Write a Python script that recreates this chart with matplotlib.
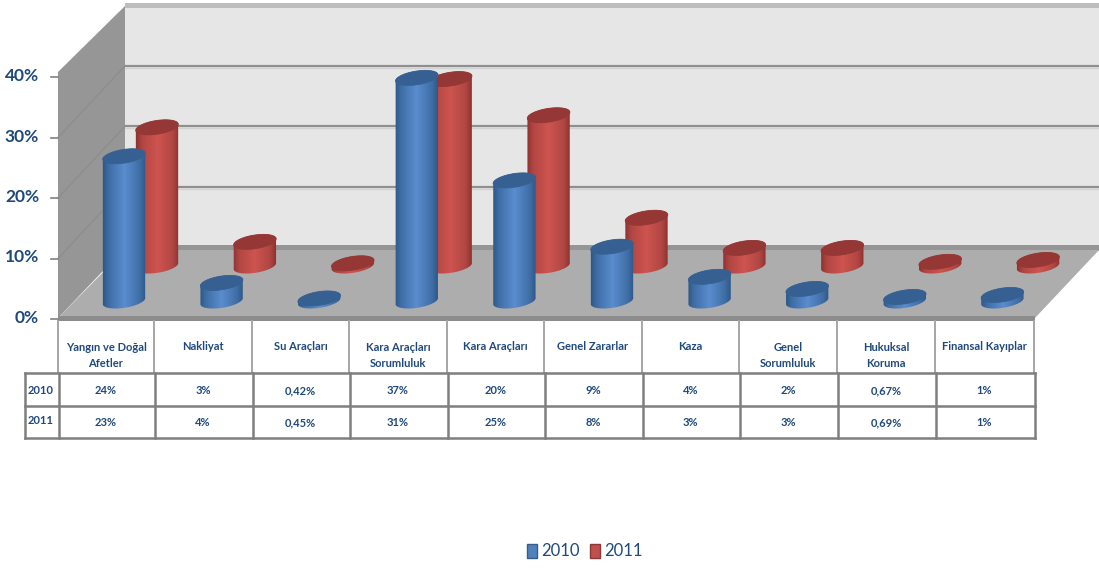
import numpy as np
import matplotlib
matplotlib.use("Agg")
import matplotlib.pyplot as plt
from matplotlib.colors import LinearSegmentedColormap
from matplotlib.patches import Polygon, Rectangle

plt.rcParams['font.family'] = ['Lato', 'DejaVu Sans']

# dane
kategorie = ['Yangın ve Doğal\nAfetler', 'Nakliyat', 'Su Araçları', 'Kara Araçları\nSorumluluk',
             'Kara Araçları', 'Genel Zararlar', 'Kaza', 'Genel\nSorumluluk',
             'Hukuksal\nKoruma', 'Finansal Kayıplar']
wartosci_2010 = [24, 3, 0.42, 37, 20, 9, 4, 2, 0.67, 1]
wartosci_2011 = [23, 4, 0.45, 31, 25, 8, 3, 3, 0.69, 1]
etykiety_2010 = ['24%', '3%', '0,42%', '37%', '20%', '9%', '4%', '2%', '0,67%', '1%']
etykiety_2011 = ['23%', '4%', '0,45%', '31%', '25%', '8%', '3%', '3%', '0,69%', '1%']
osie_y = [0, 10, 20, 30, 40]

NAVY = '#1f497d'
PX_NA_PROCENT = 6.03

fig = plt.figure(figsize=(10.99, 5.68), dpi=100)
ax = fig.add_axes([0, 0, 1, 1])


def walec(cx, baza, wartosc, kolory, gora, z):
    # walec: gradient na boku + elipsa na gorze
    a, b, kat = 21.5, 6.8, np.radians(9)
    top = baza - wartosc * PX_NA_PROCENT
    t0 = np.arctan2(-b * np.sin(kat), a * np.cos(kat))

    def elipsa(t, cy):
        return np.column_stack([
            cx + a * np.cos(t) * np.cos(kat) + b * np.sin(t) * np.sin(kat),
            cy - a * np.cos(t) * np.sin(kat) + b * np.sin(t) * np.cos(kat),
        ])

    dol = elipsa(np.linspace(t0, t0 + np.pi, 40), baza)
    gor = elipsa(np.linspace(t0 + np.pi, t0 + 2 * np.pi, 40), top)
    bok = Polygon(np.vstack([dol, gor]), closed=True, fc='none', ec='none', zorder=z)
    ax.add_patch(bok)
    grad = np.linspace(0, 1, 64).reshape(1, -1)
    cm = LinearSegmentedColormap.from_list('w', kolory)
    im = ax.imshow(grad, cmap=cm, extent=[cx - a - 1, cx + a + 1, baza + 10, top - 10],
                   aspect='auto', zorder=z, interpolation='bilinear')
    im.set_clip_path(bok)
    ax.add_patch(Polygon(elipsa(np.linspace(0, 2 * np.pi, 80), top), closed=True,
                         fc=gora, ec=gora, lw=0.6, zorder=z + 0.1))


# sciany i podloga
ax.add_patch(Polygon([(125, 5), (1099, 5), (1099, 250), (125, 250)], fc='#e6e6e6', ec='none', zorder=1))
ax.add_patch(Rectangle((125, 3), 974, 5, fc='#bdbdbd', ec='none', zorder=1.6))
ax.add_patch(Polygon([(58, 318), (125, 248), (125, 6), (58, 72)], fc='#969696', ec='none', zorder=2))
ax.add_patch(Rectangle((125, 245), 974, 6, fc='#959595', ec='none', zorder=2))
ax.add_patch(Polygon([(58, 318), (125, 250), (1099, 250), (1035, 318)], fc='#adadad', ec='none', zorder=2.1))
ax.add_patch(Rectangle((58, 316), 977, 5, fc='#8c8c8c', ec='none', zorder=2.2))

for v in osie_y[1:]:
    yb = 247 - v * 60.4 / 10
    yf = 319 - v * 60.5 / 10
    if v < 40:
        ax.plot([125, 1099], [yb, yb], color='#8f8f8f', lw=1.6, zorder=1.5)
        ax.plot([125, 1099], [yb + 2, yb + 2], color='#d2d2d2', lw=1, zorder=1.4)
        ax.plot([58, 125], [yf, yb], color='#8c8c8c', lw=0.8, zorder=2.1)
for v in osie_y:
    yf = 319 - v * 60.5 / 10
    ax.plot([51, 58], [yf, yf], color='#808080', lw=1.2, zorder=3)
    ax.text(39, yf - 1, f'{v}%', ha='right', va='center', fontsize=12.5, fontweight='bold', color=NAVY)

# slupki
niebieski = [(0, '#2c5482'), (0.15, '#3f6ea6'), (0.5, '#5a8dcf'), (0.85, '#3f6ea6'), (1, '#2c5482')]
czerwony = [(0, '#8a2f2c'), (0.15, '#b04643'), (0.5, '#cf5450'), (0.85, '#b04643'), (1, '#8a2f2c')]
for i, v in enumerate(wartosci_2011):
    walec(157 + 97.9 * i, 266, v, czerwony, '#953735', 5 + i * 0.2)
for i, v in enumerate(wartosci_2010):
    walec(124 + 97.6 * i, 301, v, niebieski, '#376092', 10 + i * 0.2)

# tabela
kol_x = [58, 154, 252, 349, 447, 544, 642, 739, 837, 935, 1034]
for x in kol_x:
    ax.plot([x, x], [321, 373], color='#a6a6a6', lw=1.4, zorder=3)
for x in kol_x:
    ax.plot([x + 1, x + 1], [373, 438], color='#7f7f7f', lw=1.8, zorder=3)
for y in [373, 406, 438]:
    ax.plot([25, 1035], [y, y], color='#7f7f7f', lw=1.8, zorder=3)
ax.plot([25, 25], [373, 438], color='#7f7f7f', lw=1.8, zorder=3)

for i, kat in enumerate(kategorie):
    xc = (kol_x[i] + kol_x[i + 1]) / 2
    ax.text(xc, 355.5 if '\n' in kat else 346, kat, ha='center', va='center', fontsize=8,
            fontweight='bold', color=NAVY, linespacing=1.45)
    ax.text(xc, 391, etykiety_2010[i], ha='center', va='center', fontsize=8, fontweight='bold', color=NAVY)
    ax.text(xc, 423, etykiety_2011[i], ha='center', va='center', fontsize=8, fontweight='bold', color=NAVY)
ax.text(41, 390, '2010', ha='center', va='center', fontsize=8, fontweight='bold', color=NAVY)
ax.text(41, 421, '2011', ha='center', va='center', fontsize=8, fontweight='bold', color=NAVY)

# legenda
ax.add_patch(Rectangle((527, 544), 10, 14, fc='#4f81bd', ec='#385d8a', lw=1))
ax.text(541, 551, '2010', ha='left', va='center', fontsize=12, color=NAVY)
ax.add_patch(Rectangle((590, 544), 10, 14, fc='#c0504d', ec='#8c3836', lw=1))
ax.text(604, 551, '2011', ha='left', va='center', fontsize=12, color=NAVY)

ax.set_xlim(0, 1099)
ax.set_ylim(568, 0)
ax.axis('off')

fig.savefig('out.png', dpi=100)
